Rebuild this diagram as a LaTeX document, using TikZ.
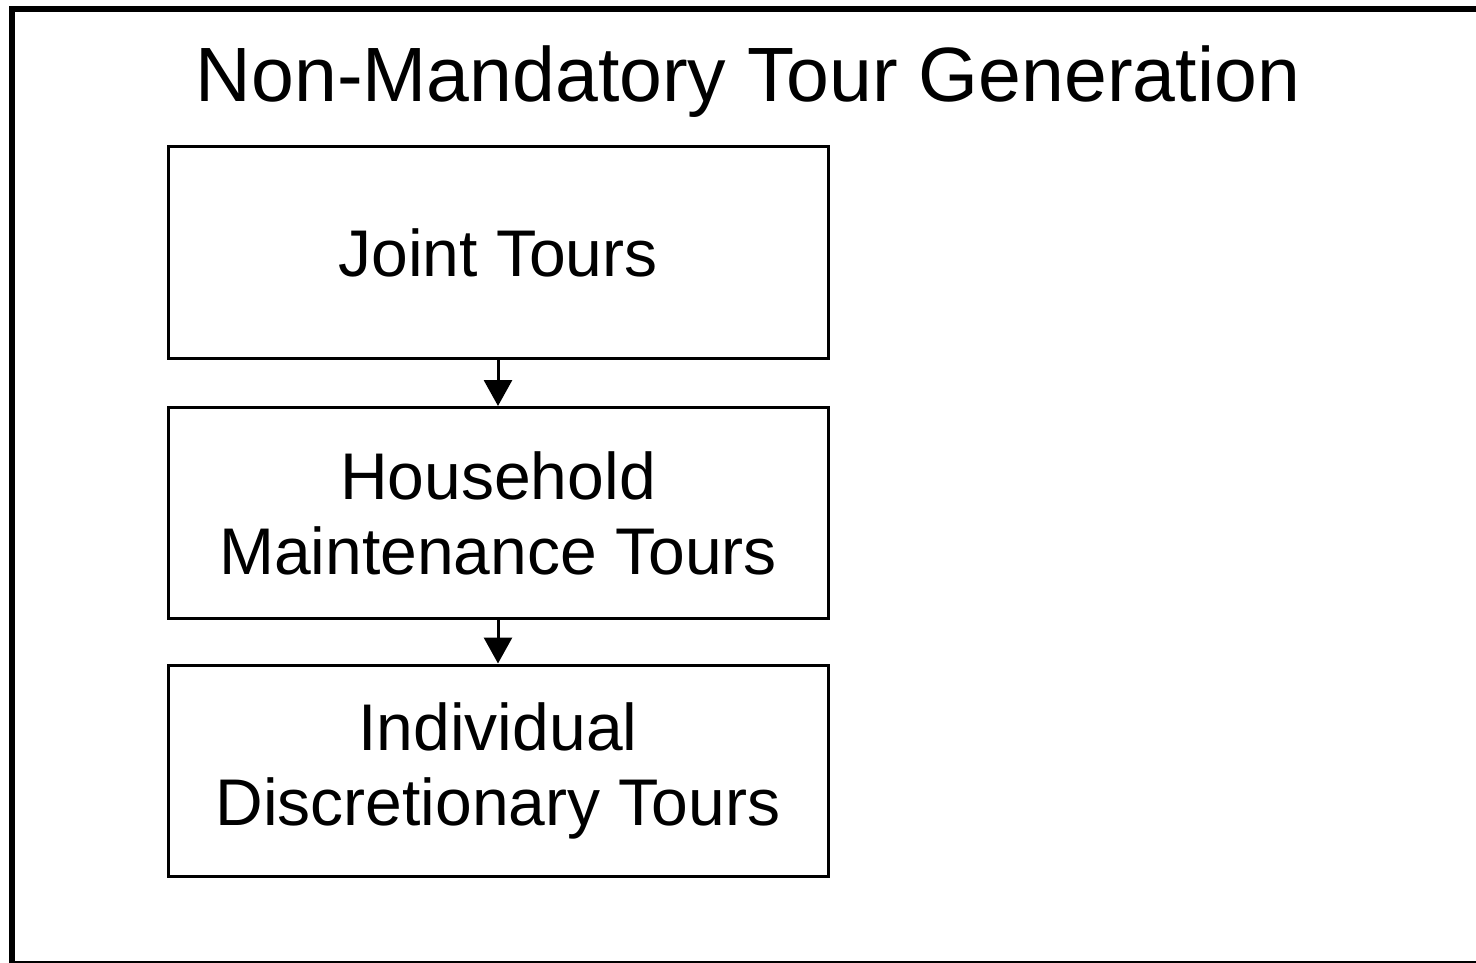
\documentclass[tikz,border=0pt]{standalone}
\usepackage{fontspec}
\setmainfont{Liberation Sans}
\usetikzlibrary{arrows.meta,positioning}

\tikzset{
  tourbox/.style={draw, line width=3pt, minimum width=660pt, minimum height=211pt,
    align=center, inner sep=0pt, font=\fontsize{66}{75}\selectfont},
  tourarrow/.style={line width=3pt, -{Triangle[width=28pt,length=26pt]}}
}

\begin{document}
\begin{tikzpicture}[x=1pt,y=-1pt]

\useasboundingbox (0,0) rectangle (1476,963);

% outer frame, cut on the right
\coordinate (FL) at (12,963);
\coordinate (FT) at (12,9);
\coordinate (FR) at (1490,9);
\draw[line width=6pt] (FL) -- (FT) -- (FR);
\draw[line width=2pt] (12,962) -- (1490,962);

\node (title) at (748,82) {\fontsize{77}{80}\selectfont Non-Mandatory Tour Generation};

\node[tourbox] (joint) at (498,252.5) {Joint Tours};
\node[tourbox] (maint) at (498,513) {Household\\Maintenance Tours};
\node[tourbox] (indiv) at (498,770.5) {Individual\\Discretionary Tours};

\draw[tourarrow] (joint) -- (maint);
\draw[tourarrow] (maint) -- (indiv);

\end{tikzpicture}
\end{document}
